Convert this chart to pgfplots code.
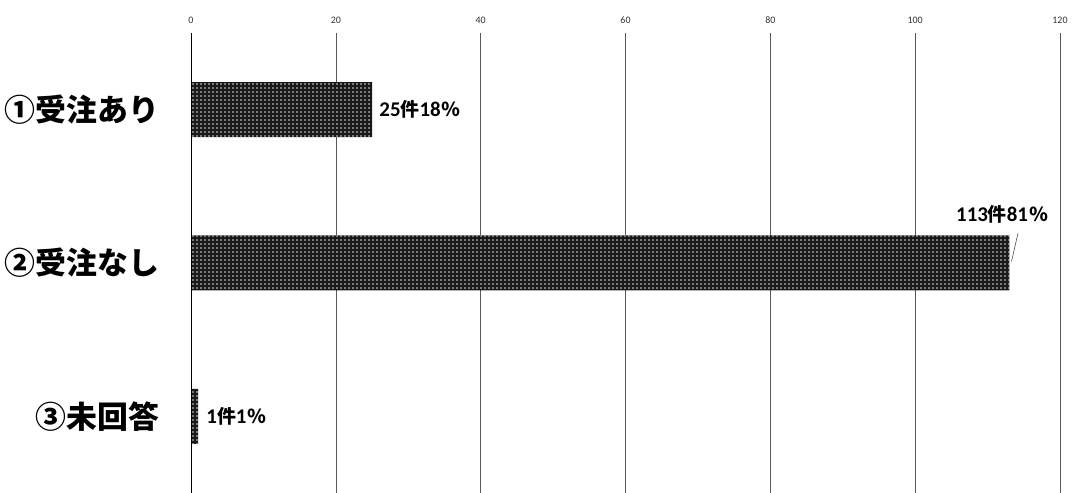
\documentclass[border=0pt]{standalone}
\usepackage{fontspec}
\usepackage{pgfplots}
\pgfplotsset{compat=1.18}
\usetikzlibrary{patterns}
\newfontfamily\jp{Noto Sans CJK JP}
\newfontfamily\carl{Carlito}
\setmainfont{Carlito}
\pgfdeclarepatternformonly{mydots}{\pgfqpoint{0pt}{0pt}}{\pgfqpoint{4pt}{4pt}}{\pgfqpoint{4pt}{4pt}}{%
  \pgfpathrectangle{\pgfqpoint{1.4pt}{1.4pt}}{\pgfqpoint{1.2pt}{1.2pt}}%
  \pgfusepath{fill}}
\newcommand{\lbl}[2]{{\fontsize{21}{23}\selectfont\carl\bfseries #1{\jp\bfseries\fontsize{19}{23}\selectfont 件}#2\hspace{1bp}{\jp\fontsize{19}{23}\selectfont ％}}}
\begin{document}
\begin{tikzpicture}[x=1bp,y=1bp]
\path[use as bounding box] (0,0) rectangle (1073,493);
\begin{axis}[
  at={(191bp,0bp)}, anchor=south west,
  scale only axis, width=869bp, height=460bp,
  xbar, bar width=55bp,
  xmin=0, xmax=120, ymin=-0.5, ymax=2.5, y dir=reverse,
  xtick={0,20,...,120},
  ytick={0,1,2},
  yticklabels={①受注あり,②受注なし,③未回答},
  yticklabel style={font=\jp\bfseries\fontsize{31}{33}\selectfont, xshift=-24bp},
  xticklabel pos=right,
  xticklabel style={font=\carl\fontsize{10}{12}\selectfont, color=black!80, yshift=6bp},
  /pgf/number format/assume math mode=true,
  xmajorgrids,
  major grid style={black!65, line width=0.6bp},
  tick style={draw=none},
  axis line style={draw=none},
  clip=false,
]
\addplot[draw=none, fill=black!90, postaction={pattern=mydots, pattern color=white}] coordinates {(25,0) (113,1) (1,2)};
\draw[black, line width=0.8bp] (axis cs:0,-0.5) -- (axis cs:0,2.5);
\draw[black!70, line width=0.6bp] (axis cs:113.3,0.99) -- (axis cs:114.2,0.805);
\node[anchor=west, inner sep=0] at (axis cs:26,0) {\lbl{25}{18}};
\node[inner sep=0] at (axis cs:112,0.68) {\lbl{113}{81}};
\node[anchor=west, inner sep=0] at (axis cs:2.1,2) {\lbl{1}{1}};
\end{axis}
\end{tikzpicture}
\end{document}
